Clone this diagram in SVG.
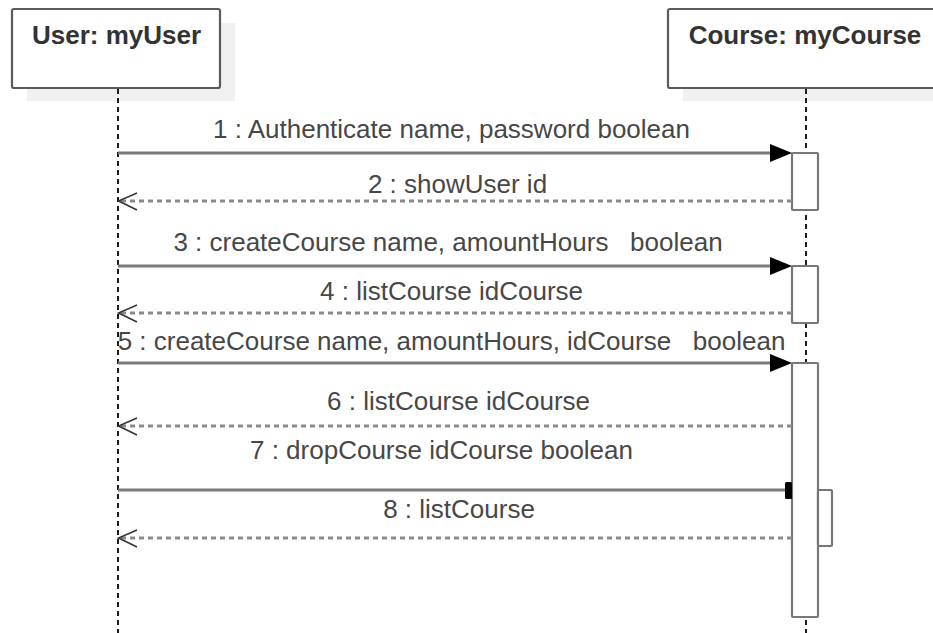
<svg xmlns="http://www.w3.org/2000/svg" width="933" height="633" viewBox="0 0 933 633">
<style>
.shadow{fill:#f0f0f0;stroke:none}
.box{fill:#fff;stroke:#5a5a5a;stroke-width:2.2}
.title{font-family:"Liberation Sans",Arial,sans-serif;font-size:26px;font-weight:bold;fill:#333;text-anchor:middle}
.lbl{font-family:"Liberation Sans",Arial,sans-serif;font-size:26px;fill:#474747;text-anchor:middle}
.life{stroke:#111;stroke-width:1.9;stroke-dasharray:5 4;fill:none}
.act{fill:#fff;stroke:#777;stroke-width:2.2}
.msg{stroke:#7a7a7a;stroke-width:2.8;fill:none}
.ret{stroke:#8a8a8a;stroke-width:2.9;stroke-dasharray:5 4;fill:none}
.open{stroke:#333;stroke-width:1.5;fill:none}
.head{fill:#000;stroke:none}
</style>
<rect width="933" height="633" fill="#fff"/>
<g id="user">
  <rect class="shadow" x="27" y="23" width="208" height="78"/>
  <rect class="box" x="12" y="9" width="208" height="79" rx="2"/>
  <text class="title" x="116.5" y="44">User: myUser</text>
  <line class="life" x1="118" y1="89" x2="118" y2="633"/>
</g>
<g id="course">
  <rect class="shadow" x="683" y="23" width="276" height="78"/>
  <rect class="box" x="668" y="9" width="276" height="79" rx="2"/>
  <text class="title" x="805" y="44">Course: myCourse</text>
  <line class="life" x1="806" y1="89" x2="806" y2="633"/>
</g>
<g id="activations">
  <rect class="act" x="792" y="153" width="26" height="57" rx="1"/>
  <rect class="act" x="792" y="266" width="26" height="57" rx="1"/>
  <rect class="act" x="792" y="363" width="26" height="254" rx="1"/>
  <rect class="act" x="818" y="490" width="14" height="56" rx="1"/>
</g>
<g id="connectors">
  <line class="msg" x1="118" y1="153" x2="772" y2="153"/>
  <polygon class="head" points="770,144 792,153 770,162"/>
  <line class="ret" x1="792" y1="201" x2="121" y2="201"/>
  <polyline class="open" points="137,193 118.5,201 137,210"/>
  <line class="msg" x1="118" y1="266" x2="772" y2="266"/>
  <polygon class="head" points="770,257 792,266 770,275"/>
  <line class="ret" x1="792" y1="313" x2="121" y2="313"/>
  <polyline class="open" points="137,305 118.5,313 137,322"/>
  <line class="msg" x1="118" y1="363" x2="772" y2="363"/>
  <polygon class="head" points="770,354 792,363 770,372"/>
  <line class="ret" x1="792" y1="426" x2="121" y2="426"/>
  <polyline class="open" points="137,418 118.5,426 137,435"/>
  <line class="msg" x1="118" y1="490" x2="786" y2="490"/>
  <rect class="head" x="785" y="482" width="7" height="17" rx="1.5"/>
  <line class="ret" x1="792" y1="538" x2="121" y2="538"/>
  <polyline class="open" points="137,530 118.5,538 137,547"/>
</g>
<g id="labels">
  <text class="lbl" x="451.5" y="138">1 : Authenticate name, password boolean</text>
  <text class="lbl" x="457.5" y="193">2 : showUser id</text>
  <text class="lbl" x="448" y="251" xml:space="preserve">3 : createCourse name, amountHours   boolean</text>
  <text class="lbl" x="451.5" y="300">4 : listCourse idCourse</text>
  <text class="lbl" x="451.5" y="350" xml:space="preserve">5 : createCourse name, amountHours, idCourse   boolean</text>
  <text class="lbl" x="458.5" y="410">6 : listCourse idCourse</text>
  <text class="lbl" x="441.5" y="459">7 : dropCourse idCourse boolean</text>
  <text class="lbl" x="459" y="518">8 : listCourse</text>
</g>
</svg>
